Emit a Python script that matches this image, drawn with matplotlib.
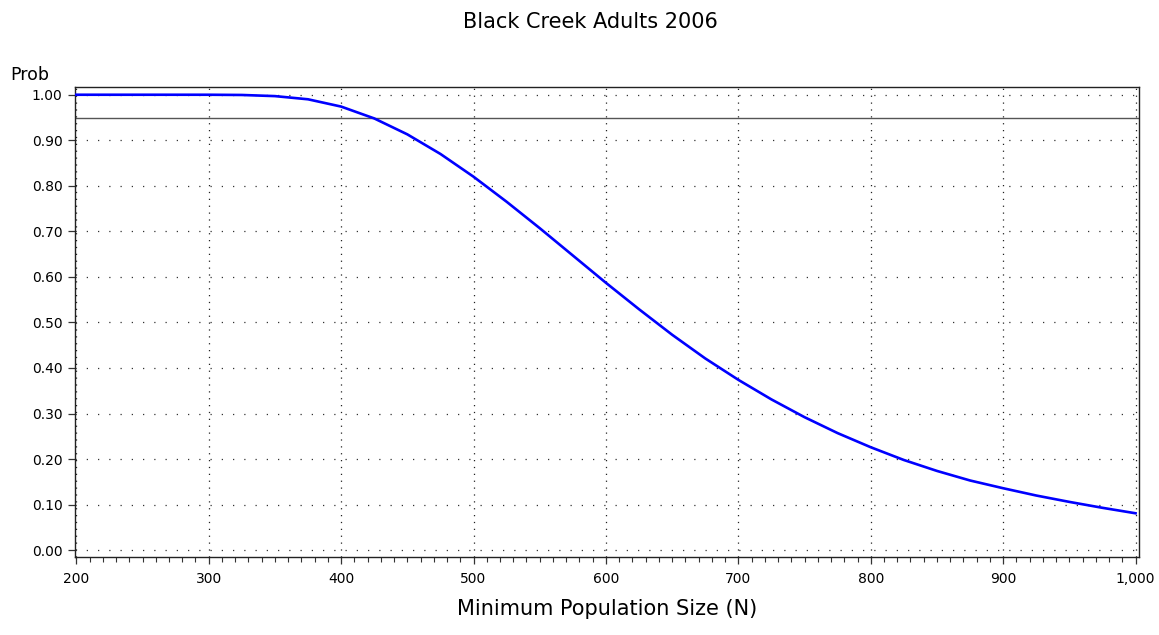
import numpy as np
import matplotlib.pyplot as plt
from matplotlib.ticker import MultipleLocator, FuncFormatter

# ===== data =====
pop_size = [200, 250, 300, 325, 350, 375, 400, 425, 450, 475, 500, 525, 550,
            575, 600, 625, 650, 675, 700, 725, 750, 775, 800, 825, 850, 875,
            900, 925, 950, 975, 1000]
prob = [1.000, 1.000, 1.000, 0.9995, 0.997, 0.990, 0.974, 0.948, 0.913, 0.870,
        0.820, 0.765, 0.707, 0.647, 0.587, 0.529, 0.473, 0.421, 0.374, 0.331,
        0.292, 0.257, 0.226, 0.198, 0.174, 0.153, 0.136, 0.120, 0.106, 0.093,
        0.081]
ref_level = 0.95

title_text = 'Black Creek Adults 2006'
xlabel_text = 'Minimum Population Size (N)'
ylabel_text = 'Prob'

# ===== style =====
plt.rcParams['font.family'] = ['DejaVu Sans']
W, H = 1159, 635
fig = plt.figure(figsize=(W / 100, H / 100), dpi=100)
ax = fig.add_axes([75 / W, 1 - 557 / H, (1139 - 75) / W, (557 - 87) / H])

ax.plot(pop_size, prob, color='#0000ff', linewidth=1.9, zorder=3,
        solid_joinstyle='round')
ax.axhline(ref_level, color='#555555', linewidth=1.0, zorder=2)

ax.set_xlim(199, 1002.6)
ax.set_ylim(-0.015, 1.017)

ax.xaxis.set_major_locator(MultipleLocator(100))
ax.xaxis.set_minor_locator(MultipleLocator(10))
ax.xaxis.set_major_formatter(FuncFormatter(lambda v, p: f'{v:,.0f}'))
ax.yaxis.set_major_locator(MultipleLocator(0.1))
ax.yaxis.set_major_formatter(FuncFormatter(lambda v, p: f'{v:.2f}'))

ax.tick_params(axis='both', which='major', direction='out', length=5,
               width=0.9, labelsize=10, color='#333333')
ax.tick_params(axis='x', which='minor', direction='out', length=3.5,
               width=0.8, color='#333333')
ax.tick_params(axis='x', pad=6)
ax.tick_params(axis='y', pad=4)

# 网格：横线点距较大，竖线点距较小
ax.grid(True, axis='y', which='major', color='#333333',
        linestyle=(0, (1, 8)), linewidth=0.9)
ax.grid(True, axis='x', which='major', color='#222222',
        linestyle=(0, (1, 4.5)), linewidth=0.9)

for spine in ax.spines.values():
    spine.set_linewidth(1.0)
    spine.set_color('#222222')

fig.text(590 / W, 1 - 22 / H, title_text, ha='center', va='center',
         fontsize=15)
ax.set_xlabel(xlabel_text, fontsize=15, labelpad=9)
fig.text(10 / W, 1 - 75 / H, ylabel_text, ha='left', va='center',
         fontsize=12.5)

fig.savefig('out.png', dpi=100, facecolor='white')
